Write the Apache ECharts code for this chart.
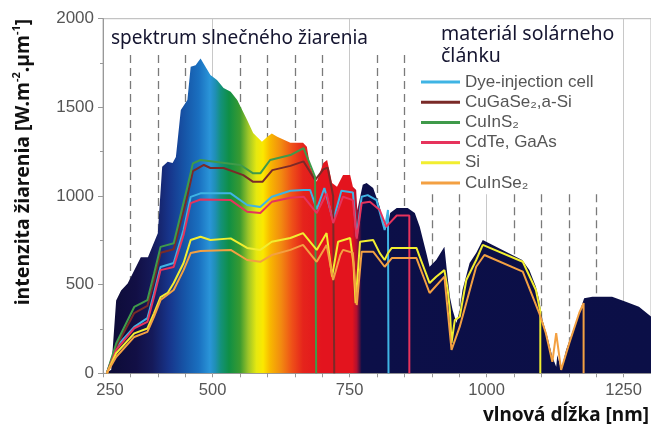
<!DOCTYPE html>
<html><head><meta charset="utf-8">
<script src="https://cdn.jsdelivr.net/npm/echarts@6/dist/echarts.min.js"></script>
<style>html,body{margin:0;padding:0;background:#fff}#c{width:651px;height:429px}</style>
</head><body><div id="c"></div>
<script>
// ---- data (wavelength nm, irradiance W.m-2.um-1) ----
const spectrum = [[305,0],[315,20],[324,410],[333,467],[345,507],[369,654],[382,654],[400,790],[408,1165],[418,1193],[427,1186],[433,1220],[442,1485],[454,1541],[460,1729],[469,1738],[478,1776],[487,1729],[496,1682],[508,1654],[520,1609],[533,1588],[545,1541],[563,1428],[574,1355],[590,1306],[600,1334],[608,1353],[618,1334],[642,1300],[665,1300],[672,1278],[678,1165],[690,1080],[702,1186],[709,1203],[718,1073],[727,1052],[738,1118],[751,1118],[756,1052],[762,1034],[764,920],[774,1063],[781,1073],[793,1045],[805,939],[814,808],[820,836],[824,904],[836,932],[856,932],[869,904],[878,827],[890,678],[896,601],[908,639],[923,714],[927,594],[933,432],[938,357],[945,284],[951,357],[956,470],[969,622],[981,678],[993,752],[1011,724],[1029,696],[1047,667],[1065,639],[1078,582],[1090,488],[1096,413],[1102,300],[1111,206],[1120,94],[1127,37],[1129,103],[1136,19],[1145,131],[1156,227],[1169,340],[1178,423],[1193,432],[1229,432],[1254,404],[1278,376],[1300,320]];

const dyeCell = [[307,0],[324,149],[357,262],[381,311],[393,450],[405,600],[429,622],[447,808],[460,995],[478,1015],[533,1015],[563,949],[587,938],[608,996],[642,1030],[666,1034],[678,1034],[690,925],[704,1045],[720,860],[735,1030],[756,1020],[763,770],[772,996],[783,1005],[799,977],[814,808],[820,921],[821,0]];
const cuGaSe2 = [[307,0],[324,150],[357,340],[381,380],[393,520],[405,680],[429,700],[454,1000],[464,1140],[484,1175],[496,1158],[520,1158],[556,1118],[574,1080],[591,1080],[609,1146],[642,1170],[666,1195],[687,1090],[702,1150],[710,1160],[720,1000],[722,0]];
const cuInS2 = [[307,0],[324,168],[357,374],[381,413],[393,560],[405,713],[429,733],[454,1052],[464,1184],[478,1203],[551,1175],[574,1128],[587,1128],[605,1203],[642,1231],[666,1270],[687,1108],[689,0]];
const cdTe = [[307,0],[324,132],[357,254],[381,290],[393,430],[405,582],[429,600],[447,780],[460,960],[478,980],[533,977],[563,911],[587,904],[608,967],[642,990],[666,996],[690,904],[708,1015],[720,847],[738,996],[756,977],[763,760],[772,960],[787,967],[805,921],[817,827],[836,890],[859,890],[859,0]];
const si = [[307,0],[324,113],[357,225],[381,253],[393,338],[405,430],[418,453],[429,509],[447,622],[460,752],[478,770],[496,752],[533,761],[563,707],[587,696],[608,742],[642,763],[665,791],[690,696],[708,791],[718,545],[729,742],[751,763],[757,622],[761,396],[769,742],[793,752],[805,678],[814,639],[820,678],[827,707],[872,707],[878,657],[896,509],[908,545],[923,582],[929,470],[933,357],[936,171],[942,300],[951,319],[963,526],[981,639],[993,724],[1066,629],[1090,470],[1098,350],[1098,0]];
const cuInSe2 = [[307,0],[324,92],[357,205],[381,234],[393,318],[405,413],[429,470],[447,582],[460,678],[478,690],[533,696],[563,639],[587,629],[608,667],[642,696],[665,724],[690,629],[708,724],[720,526],[733,667],[738,696],[756,680],[763,385],[772,686],[793,686],[814,601],[827,650],[872,650],[896,453],[923,545],[936,132],[951,263],[981,601],[996,667],[1066,573],[1096,340],[1108,227],[1120,65],[1127,227],[1136,19],[1151,171],[1169,340],[1177,396],[1177,0]];

const seriesNames = ['Dye-injection cell','CuGaSe\u2082,a-Si','CuInS\u2082','CdTe, GaAs','Si','CuInSe\u2082'];
const xTickLabels = {300:'250',500:'500',750:'750',1000:'1000',1250:'1250'}; // first label as printed in the source
const dashedGridWavelengths = [350,400,450,550,600,650,700,800,850,900,950,1050,1100,1150,1200];
const solidGridWavelengths = [500,750,1000,1250];

// ---- styles / layout ----
const lineColors = ['#3fb4e4','#7a2a28','#3f9a4a','#e6335c','#f2ee30','#f3a042'];
const lambdaMin = 305, lambdaMax = 1300;
const gradStops = [[305,'#0c0b35'],[360,'#120f45'],[390,'#151a5a'],[420,'#17348a'],[450,'#1656a8'],[475,'#1a70c0'],[495,'#2a95d8'],[505,'#1f8fb5'],[515,'#13917a'],[530,'#0f8f45'],[550,'#3a9a30'],[565,'#9cc428'],[580,'#e6e810'],[592,'#fbe800'],[605,'#f8b800'],[625,'#f28a10'],[645,'#ee5018'],[665,'#e5241c'],[700,'#e3141e'],[755,'#e3141e'],[763,'#b01030'],[772,'#0c0f48'],[1300,'#0b0f47']];
// grid lines are hidden behind the legend block between these wavelengths
const legendSpan = [880, 1220], legendBottomValue = 1010, dashTopValue = 1795;
function gridTop(w, full){ return (w > legendSpan[0] && w < legendSpan[1]) ? legendBottomValue : full; }

const chart = echarts.init(document.getElementById('c'), null, {renderer:'canvas'});
const lineData = [dyeCell, cuGaSe2, cuInS2, cdTe, si, cuInSe2];

const series = [
  {
    type:'line', name:'_grid', data:[], silent:true, z:1,
    markLine:{
      silent:true, z:1, symbol:['none','none'], label:{show:false}, animation:false,
      data: dashedGridWavelengths.map(w=>[{coord:[w,gridTop(w,dashTopValue)],lineStyle:{color:'#7a7a7a',width:1.3,type:[8,5]}},{coord:[w,0]}])
        .concat(solidGridWavelengths.map(w=>[{coord:[w,gridTop(w,2000)],lineStyle:{color:'#c8c8c8',width:1,type:'solid'}},{coord:[w,0]}]))
    }
  },
  {
    type:'line', name:'_spectrum', data:spectrum, symbol:'none', silent:true, z:2,
    lineStyle:{width:0},
    areaStyle:{opacity:1, color:new echarts.graphic.LinearGradient(0,0,1,0,
      gradStops.map(s=>({offset:(s[0]-lambdaMin)/(lambdaMax-lambdaMin), color:s[1]})))}
  }
];
lineData.forEach((d,i)=>{
  series.push({type:'line', name:seriesNames[i], data:d, symbol:'none', z:3,
    lineStyle:{width:2, color:lineColors[i]}, itemStyle:{color:lineColors[i]}});
});

chart.setOption({
  animation:false,
  backgroundColor:'#fff',
  grid:{left:103, right:0, top:18.7, bottom:55.7, show:true, borderColor:'#b5b5b5', borderWidth:1},
  xAxis:{type:'value', min:300, max:1300, interval:50,
    axisLine:{lineStyle:{color:'#999'}},
    axisTick:{show:true, length:4, lineStyle:{color:'#999'}},
    splitLine:{show:false},
    axisLabel:{fontFamily:'Liberation Sans', fontSize:16.5, color:'#555', margin:9, showMinLabel:true, showMaxLabel:false,
      formatter:v=> v===300 ? '{f|'+xTickLabels[v]+'}' : (xTickLabels[v] || ''),
      rich:{f:{fontFamily:'Liberation Sans', fontSize:16.5, color:'#555', padding:[0,0,0,14]}}}
  },
  yAxis:{type:'value', min:0, max:2000, interval:500,
    axisLine:{show:true, lineStyle:{color:'#999'}},
    axisTick:{show:true, length:5, lineStyle:{color:'#999'}},
    minorTick:{show:true, splitNumber:2, length:3, lineStyle:{color:'#999'}},
    splitLine:{show:false},
    axisLabel:{fontFamily:'Liberation Sans', fontSize:17, color:'#555', margin:9, formatter:v=>String(v)}
  },
  legend:{orient:'vertical', left:413, top:38, padding:[35,10,4,8], z:10,
    data:seriesNames, icon:'rect', itemWidth:39, itemHeight:3, itemGap:2.2,
    textStyle:{fontFamily:'Liberation Sans', fontSize:17, color:'#555', lineHeight:18}
  },
  graphic:[
    {type:'text', z:100, x:23, y:162, rotation:Math.PI/2,
      style:{text:'{a|intenzita žiarenia [W.m}{s|-2}{a|.µm}{s|-1}{a|]}', align:'center', verticalAlign:'middle',
        textAlign:'center', textVerticalAlign:'middle',
        rich:{a:{fontFamily:'Noto Sans', fontWeight:'bold', fontSize:19.5, fill:'#111', color:'#111', lineHeight:24},
              s:{fontFamily:'Noto Sans', fontWeight:'bold', fontSize:11, fill:'#111', color:'#111', lineHeight:13, verticalAlign:'top'}}}},
    {type:'text', z:100, x:649, y:416,
      style:{text:'vlnová dĺžka [nm]', font:'bold 19px "Noto Sans"', fill:'#111', align:'right', verticalAlign:'middle', textAlign:'right', textVerticalAlign:'middle'}},
    {type:'text', z:100, x:111, y:39,
      style:{text:'spektrum slnečného žiarenia', font:'19px "Noto Sans"', fill:'#151530', align:'left', verticalAlign:'middle', textAlign:'left', textVerticalAlign:'middle'}},
    {type:'text', z:100, x:441, y:34,
      style:{text:'materiál solárneho', font:'19.5px "Noto Sans"', fill:'#151530', align:'left', verticalAlign:'middle', textAlign:'left', textVerticalAlign:'middle'}},
    {type:'text', z:100, x:441, y:56,
      style:{text:'článku', font:'19.5px "Noto Sans"', fill:'#151530', align:'left', verticalAlign:'middle', textAlign:'left', textVerticalAlign:'middle'}}
  ],
  series:series
});
</script></body></html>
